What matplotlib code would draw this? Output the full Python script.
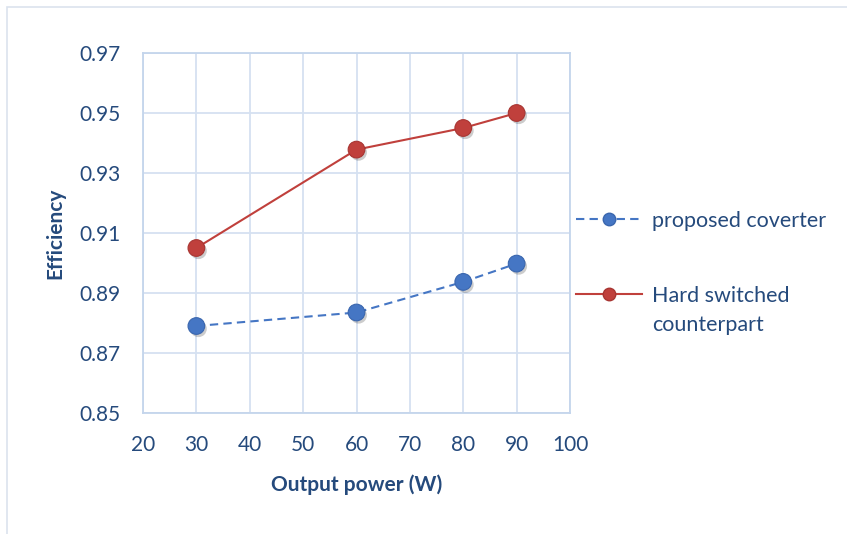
import matplotlib.pyplot as plt
import matplotlib.patheffects as pe
from matplotlib.patches import Rectangle
from matplotlib.lines import Line2D

# data
power = [30, 60, 80, 90]
eff_proposed = [0.879, 0.8835, 0.8937, 0.8998]
eff_hard = [0.905, 0.9378, 0.945, 0.950]
xticks = [20, 30, 40, 50, 60, 70, 80, 90, 100]
yticks = [0.85, 0.87, 0.89, 0.91, 0.93, 0.95, 0.97]

txt_col = '#254a7c'
grid_col = '#d5e1f1'
blue = '#4576c4'
red = '#c0403c'
dash = (0, (4, 2.5))

plt.rcParams['font.family'] = ['Lato', 'DejaVu Sans']

fig = plt.figure(figsize=(8.47, 5.34), dpi=100)
ax = fig.add_axes([143/847, 1-413/534, (570-143)/847, (413-53)/534])

# outer chart frame
fig.patches.append(Rectangle((7/847, -0.1), 1.2, 1.1 - 7/534,
                             transform=fig.transFigure, fill=False,
                             edgecolor='#dbe3ee', linewidth=1.2))

shadow = [pe.SimplePatchShadow(offset=(1.5, -2), shadow_rgbFace='k', alpha=0.2), pe.Normal()]

# lines
ax.plot(power, eff_proposed, color=blue, linestyle=dash, linewidth=1.5, zorder=3)
ax.plot(power, eff_hard, color=red, linestyle='-', linewidth=1.5, zorder=3)
# markers with a soft shadow
ax.plot(power, eff_proposed, linestyle='none', marker='o', markersize=12,
        markerfacecolor=blue, markeredgecolor='#3a66ae', markeredgewidth=0.8,
        path_effects=shadow, zorder=4)
ax.plot(power, eff_hard, linestyle='none', marker='o', markersize=12,
        markerfacecolor=red, markeredgecolor='#a83532', markeredgewidth=0.8,
        path_effects=shadow, zorder=4)

ax.set_xlim(20, 100)
ax.set_ylim(0.85, 0.97)
ax.set_xticks(xticks)
ax.set_yticks(yticks)
ax.set_yticklabels(['%.2f' % v for v in yticks])
ax.grid(True, color=grid_col, linewidth=1.3)
ax.set_axisbelow(True)
for s in ax.spines.values():
    s.set_color('#c4d5ec')
    s.set_linewidth(1.3)
ax.tick_params(length=0, labelsize=15, labelcolor=txt_col)
ax.tick_params(axis='x', pad=16)
ax.tick_params(axis='y', pad=16)

ax.set_xlabel('Output power (W)', fontsize=15, fontweight='bold', color=txt_col, labelpad=14)
ax.set_ylabel('Efficiency', fontsize=15, fontweight='bold', color=txt_col, labelpad=10)

# legend: two entries, second label wraps onto a line below
h_blue = Line2D([], [], color=blue, linestyle=dash, linewidth=1.5, marker='o',
                markersize=9, markerfacecolor=blue, markeredgecolor='#3a66ae')
h_red = Line2D([], [], color=red, linestyle='-', linewidth=1.5, marker='o',
               markersize=9, markerfacecolor=red, markeredgecolor='#a83532')
leg_kw = dict(frameon=False, handlelength=3.07, handletextpad=0.47, numpoints=1,
              fontsize=15.5, labelcolor=txt_col, borderpad=0, borderaxespad=0)
fig.legend([h_blue], ['proposed coverter'], loc='center left',
           bbox_to_anchor=(576/847, 1-221/534), **leg_kw)
fig.legend([h_red], ['Hard switched'], loc='center left',
           bbox_to_anchor=(576/847, 1-296/534), **leg_kw)
fig.text(652/847, 1-325/534, 'counterpart', fontsize=15.5, color=txt_col,
         ha='left', va='center')

fig.savefig('out.png', dpi=100)
